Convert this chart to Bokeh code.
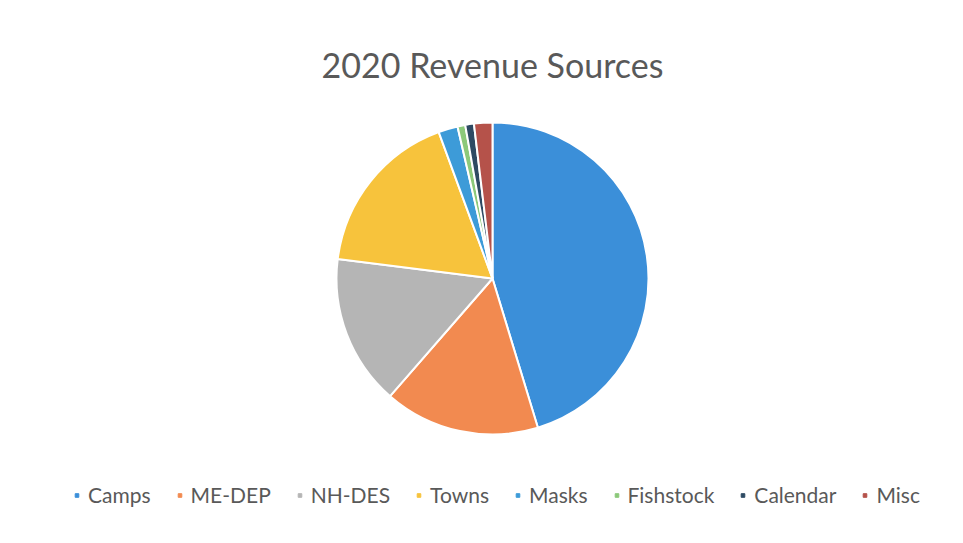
import numpy as np
from bokeh.plotting import figure
from bokeh.models import ColumnDataSource, Legend, LegendItem
from bokeh.core.properties import value
from bokeh.embed import file_html
from bokeh.resources import INLINE

title_text = "2020 Revenue Sources"
categories = ["Camps", "ME-DEP", "NH-DES", "Towns", "Masks", "Fishstock", "Calendar", "Misc"]
shares = [45.3, 16.1, 15.6, 17.4, 2.0, 0.8, 0.9, 1.9]
colors = ["#3b8fd9", "#f28a50", "#b5b5b5", "#f7c33c", "#3d9bd8", "#8cc97a", "#2e4a63", "#b5524a"]

W, H = 947, 527
p = figure(width=W, height=H, x_range=(0, W), y_range=(0, H),
           output_backend="svg", toolbar_location=None, min_border=0)
p.axis.visible = False
p.grid.visible = False
p.outline_line_color = None
p.background_fill_color = "white"

vals = np.array(shares, dtype=float)
frac = vals / vals.sum()
cum = np.concatenate([[0], np.cumsum(frac)])
start = np.pi / 2 - cum[:-1] * 2 * np.pi
end = np.pi / 2 - cum[1:] * 2 * np.pi

src = ColumnDataSource(dict(cat=categories, start=start, end=end, color=colors))
cx, cy, r = 492, 249, 156
p.wedge(x=cx, y=cy, radius=r, start_angle="start", end_angle="end", direction="clock",
        fill_color="color", line_color="white", line_width=2, source=src)

p.text(x=[cx], y=[463], text=[title_text], text_align="center", text_baseline="alphabetic",
       text_font=value("Lato"), text_font_size="34px", text_color="#595959")

items = []
for c, col in zip(categories, colors):
    rr = p.scatter(x=[-100], y=[-100], marker="square", size=8, fill_color=col, line_color=col)
    items.append(LegendItem(label=c, renderers=[rr]))
legend = Legend(items=items, orientation="horizontal", location=(72, 20),
                label_text_font="Lato", label_text_font_size="21px", label_text_color="#595959",
                glyph_width=9, glyph_height=12, spacing=24, label_standoff=7,
                border_line_color=None, background_fill_alpha=0, margin=0, padding=0)
p.add_layout(legend, "center")

open("out.html", "w").write(file_html(p, INLINE))
